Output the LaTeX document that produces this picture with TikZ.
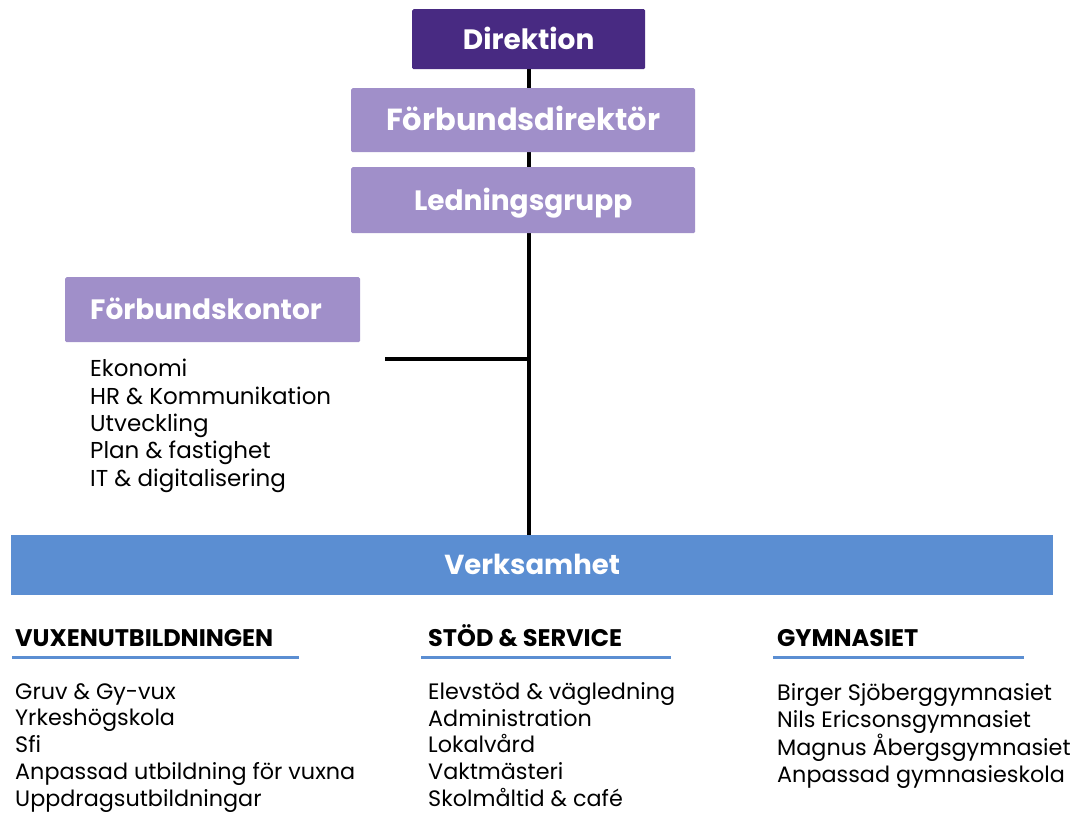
\documentclass[tikz,border=0pt]{standalone}
\usepackage{fontspec}
\setmainfont{Poppins}
\definecolor{dpurple}{HTML}{482A82}
\definecolor{lpurple}{HTML}{A08FC9}
\definecolor{vblue}{HTML}{5B8ED2}
\begin{document}
\begin{tikzpicture}[x=1pt,y=-1pt,
  box/.style={rounded corners=1.5pt,inner sep=0pt,text=white,text height=20pt,text depth=0pt,font=\fontsize{28}{32}\selectfont\bfseries},
  conn/.style={line width=4pt,black},
  uline/.style={line width=3pt,vblue},
  head/.style={anchor=base west,inner sep=0pt,font=\fontsize{24}{27}\selectfont\bfseries},
  lst/.style={anchor=north west,inner sep=0pt,align=left,font=\fontsize{23}{27.4}\selectfont},
  blst/.style={lst,font=\fontsize{22.3}{26.9}\selectfont}]
\useasboundingbox (0,0) rectangle (1072,815);
% connectors first (behind boxes)
\coordinate (top) at (529,69);
\coordinate (bot) at (529,535);
\coordinate (hl) at (385,359);
\draw[conn] (top) -- (bot);
\draw[conn] (hl) -- (hl -| top);
% boxes
\node[box,fill=dpurple,minimum width=233,minimum height=60,anchor=north west] (dir) at (412,9) {Direktion};
\node[box,fill=lpurple,minimum width=344,minimum height=64,anchor=north west] (fd) at (351,88) {\fontsize{30.5}{34}\selectfont Förbundsdirektör};
\node[box,fill=lpurple,minimum width=344,minimum height=66,anchor=north west] (lg) at (351,167) {Ledningsgrupp};
\node[box,fill=lpurple,minimum width=295,minimum height=65,anchor=north west] (fk) at (65,277) {};
\node[box,anchor=west] (fkt) at (90,309.5) {Förbundskontor};
\node[box,fill=vblue,rounded corners=0pt,minimum width=1042,minimum height=60,anchor=north west] (verk) at (11,535) {};
\node[box,text height=19pt,font=\fontsize{27.5}{31}\selectfont\bfseries] (verkt) at (verk.center) {Verksamhet};
% Förbundskontor list
\node[lst] (fkl) at (90,359) {Ekonomi\\HR \& Kommunikation\\Utveckling\\Plan \& fastighet\\IT \& digitalisering};
% columns
\node[head] (h1) at (15,646) {VUXENUTBILDNINGEN};
\node[head] (h2) at (428,646) {STÖD \& SERVICE};
\node[head] (h3) at (777,646) {GYMNASIET};
\coordinate (u1a) at (12,657); \coordinate (u1b) at (299,657);
\coordinate (u2a) at (421,657); \coordinate (u2b) at (671,657);
\coordinate (u3a) at (773,657); \coordinate (u3b) at (1024,657);
\draw[uline] (u1a) -- (u1b);
\draw[uline] (u2a) -- (u2b);
\draw[uline] (u3a) -- (u3b);
\node[blst] (l1) at (15,683) {Gruv \& Gy-vux\\Yrkeshögskola\\Sfi\\Anpassad utbildning för vuxna\\Uppdragsutbildningar};
\node[blst] (l2) at (428,682) {Elevstöd \& vägledning\\Administration\\Lokalvård\\Vaktmästeri\\Skolmåltid \& café};
\node[blst] (l3) at (777,683) {Birger Sjöberggymnasiet\\Nils Ericsonsgymnasiet\\Magnus Åbergsgymnasiet\\Anpassad gymnasieskola};
\end{tikzpicture}
\end{document}
